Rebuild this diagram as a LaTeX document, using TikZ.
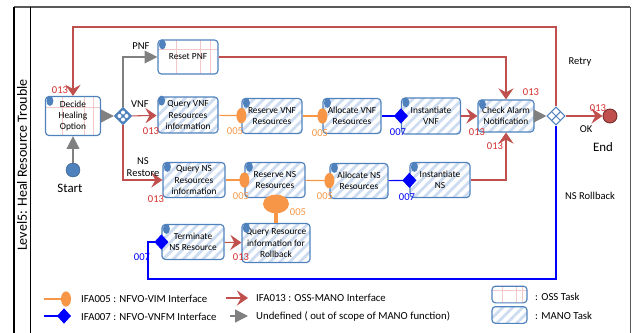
\documentclass[tikz,border=0pt]{standalone}
\usepackage{fontspec}
\setmainfont{Carlito}
\usepackage{tikz}
\usetikzlibrary{positioning,arrows.meta,shapes.geometric,patterns.meta,calc}
\usepackage{xcolor}

\definecolor{taskblue}{RGB}{79,129,189}
\definecolor{ossgrid}{RGB}{242,200,200}
\definecolor{stripeblue}{RGB}{205,220,240}
\definecolor{ifared}{RGB}{192,80,77}
\definecolor{numred}{RGB}{215,45,45}
\definecolor{ifaorange}{RGB}{247,150,70}
\definecolor{ifablue}{RGB}{0,0,255}
\definecolor{undefgray}{RGB}{128,128,128}

\tikzset{
  task/.style={draw=taskblue, line width=1pt, rounded corners=3pt, align=center,
    font=\fontsize{8}{9.5}\selectfont, minimum width=18mm, minimum height=10.5mm, inner sep=1pt},
  osstask/.style={task, fill=white, path picture={
      \foreach \f in {0.3,0.7,0.87}
        \draw[ossgrid, line width=0.8pt]
          ($(path picture bounding box.south west)!\f!(path picture bounding box.south east)$) --
          ($(path picture bounding box.north west)!\f!(path picture bounding box.north east)$);
      \draw[ossgrid, line width=0.8pt]
          ($(path picture bounding box.north west)!0.28!(path picture bounding box.south west)$) --
          ($(path picture bounding box.north east)!0.28!(path picture bounding box.south east)$);
    }},
  manotask/.style={task, pattern={Lines[angle=45,distance=6pt,line width=2.4pt]}, pattern color=stripeblue},
  gwone/.style={diamond, aspect=1, fill=taskblue, draw=taskblue, minimum size=5.4mm, inner sep=0pt,
    path picture={\foreach \a in {0,90,180,270}
      \fill[white] ([shift={(\a:1.05mm)}]path picture bounding box.center) circle (0.6mm);}},
  gwtwo/.style={diamond, aspect=1, fill=white, draw=taskblue, line width=0.9pt, minimum size=5.4mm, inner sep=0pt,
    path picture={
      \draw[taskblue, line width=0.9pt] ([shift={(-1.35mm,1.35mm)}]path picture bounding box.center) -- ([shift={(1.35mm,-1.35mm)}]path picture bounding box.center);
      \draw[taskblue, line width=0.9pt] ([shift={(1.35mm,1.35mm)}]path picture bounding box.center) -- ([shift={(-1.35mm,-1.35mm)}]path picture bounding box.center);}},
  startev/.style={circle, fill=taskblue, draw=taskblue!70!black, minimum size=4.2mm, inner sep=0pt},
  endev/.style={circle, fill=ifared, draw=ifared!60!black, line width=0.8pt, minimum size=4.2mm, inner sep=0pt},
  ifa013/.style={draw=ifared, line width=0.9pt, -{Stealth[length=9.5pt,width=13pt,inset=3.5pt]}},
  undef/.style={draw=undefgray, line width=1.1pt, -{Triangle[length=11pt,width=11pt]}},
  ifa005/.style={draw=ifaorange, line width=1pt, -{Ellipse[length=8.5pt,width=13pt]}, shorten >=-4.25pt},
  ifa007/.style={draw=ifablue, line width=1pt, -{Diamond[length=12pt,width=13pt]}, shorten >=-6pt},
  lbl/.style={font=\fontsize{9}{10.5}\selectfont, align=center},
  num013/.style={text=numred, font=\fontsize{9}{10}\selectfont, inner sep=0pt},
  num005/.style={text=ifaorange, font=\fontsize{9}{10}\selectfont, inner sep=0pt},
  num007/.style={text=ifablue, font=\fontsize{9}{10}\selectfont, inner sep=0pt},
  legend/.style={font=\fontsize{9.2}{11}\selectfont, anchor=west, inner sep=0pt}
}

\begin{document}
\begin{tikzpicture}[x=0.3mm, y=-0.3mm]
\useasboundingbox (0,0) rectangle (635,333);

% lane frame
\draw[gray!70!black, line width=1.2pt] (14,7) -- (630,7);
\draw[line width=1.6pt] (14,7) -- (14,333);
\draw[line width=0.7pt] (30,7) -- (30,333);
\draw[gray!70!black, line width=0.8pt] (630,7) -- (630,333);
\node[rotate=90, font=\fontsize{12}{14}\selectfont] (lane) at (22,165) {Level5: Heal Resource Trouble};

% tasks
\node[osstask, minimum width=16.5mm, minimum height=11.7mm] (decide) at (73,116) {Decide\\Healing\\Option};
\node[osstask, minimum height=10.2mm] (resetpnf) at (188,57) {Reset PNF};
\node[manotask, minimum height=10.8mm] (qvnf) at (188,115) {Query VNF\\Resources\\information};
\node[manotask] (rsvvnf) at (272,116) {Reserve VNF\\Resources};
\node[manotask, minimum width=17.4mm] (allocvnf) at (352,116) {Allocate VNF\\Resources};
\node[manotask, minimum width=17.7mm, minimum height=10.8mm] (instvnf) at (431,116) {Instantiate\\VNF};
\node[manotask, minimum width=16.8mm, minimum height=9.6mm] (checkalarm) at (506,116) {Check Alarm\\Notification};
\node[manotask, minimum width=18.6mm] (qns) at (194,180) {Query NS\\Resources\\information};
\node[manotask] (rsvns) at (275,180) {Reserve NS\\Resources};
\node[manotask, minimum width=17.4mm] (allocns) at (359,181) {Allocate NS\\Resources};
\node[manotask] (instns) at (440,180) {Instantiate\\NS};
\node[manotask, minimum width=18.6mm] (termns) at (193,242) {Terminate\\NS Resource};
\node[manotask, minimum width=20.4mm, minimum height=11.7mm] (qrollback) at (276,243) {Query Resource\\information for\\Rollback};

% task markers
\foreach \t in {decide,resetpnf,qvnf,rsvvnf,allocvnf,instvnf,checkalarm,qns,rsvns,allocns,instns,termns,qrollback}
  \fill[taskblue] ($(\t.north west)+(5,5)$) ellipse (3.5 and 5);

% events and gateways
\node[startev] (start) at (73,170) {};
\node[font=\fontsize{11}{13}\selectfont] (startlbl) at (70,188) {Start};
\node[gwone] (gw1) at (123,116) {};
\node[gwtwo] (gw2) at (556,116) {};
\node[endev] (end) at (610,116) {};
\node[font=\fontsize{11}{13}\selectfont] (endlbl) at (603,147) {End};

% flow
\draw[undef] (start) -- (decide);
\draw[undef] (decide) -- (gw1);
\draw[undef] (gw1.north) |- (resetpnf);
\draw[ifa013] (gw1) -- (qvnf);
\draw[ifa013] (gw1.south) |- (qns);
\draw[ifa005] (qvnf) -- (rsvvnf);
\draw[ifa005] (rsvvnf) -- (allocvnf);
\draw[ifa007] (allocvnf) -- (instvnf);
\draw[ifa013] (instvnf) -- (checkalarm);
\draw[ifa013] (resetpnf) -| (checkalarm);
\draw[ifa005] (qns) -- (rsvns);
\draw[ifa005] (rsvns) -- (allocns);
\draw[ifa007] (allocns) -- (instns);
\draw[ifa013] (instns) -| (checkalarm);
\draw[undef] (checkalarm) -- (gw2);
\draw[ifa013] (gw2) -- (end);
\coordinate (retry) at (300,27);
\draw[ifa013] (gw2.north) |- (retry) -| (decide.north);
\coordinate (rollback) at (148,279);
\draw[ifa007] (gw2.south) |- (rollback) |- (termns);
\draw[ifa013] (termns) -- (qrollback);
\draw[ifa005, line width=3.5pt, -{Ellipse[length=16pt,width=22pt]}, shorten >=-3pt]
  (qrollback.north) -- (qrollback.north |- rsvns.south);

% branch labels
\node[lbl] (pnf) at (141,46) {PNF};
\node[lbl] (vnf) at (140,104) {VNF};
\node[lbl] (nsrestore) at (143,167) {NS\\Restore};
\node[lbl] (retrylbl) at (580,62) {Retry};
\node[lbl] (ok) at (586,129) {OK};
\node[lbl] (nsrollback) at (590,196) {NS Rollback};

% interface numbers
\foreach \x/\y [count=\i] in {60/90,151/131,156/199,531/92,477/132,495/146,598/108,241/257}
  \node[num013] (r\i) at (\x,\y) {013};
\foreach \x/\y [count=\i] in {235/131,320/133,241/196,325/196,298/212}
  \node[num005] (o\i) at (\x,\y) {005};
\foreach \x/\y [count=\i] in {398/132,407/197,142/257}
  \node[num007] (b\i) at (\x,\y) {007};

% legend
\coordinate (k5a) at (44,299); \coordinate (k5b) at (66,299);
\draw[ifa005] (k5a) -- (k5b);
\node[legend] (k5t) at (81,299) {IFA005 : NFVO-VIM Interface};
\coordinate (k7a) at (44,316); \coordinate (k7b) at (64,316);
\draw[ifa007] (k7a) -- (k7b);
\node[legend] (k7t) at (81,317) {IFA007 : NFVO-VNFM Interface};
\coordinate (k13a) at (226,298); \coordinate (k13b) at (248,298);
\draw[ifa013] (k13a) -- (k13b);
\node[legend] (k13t) at (256,298) {IFA013 : OSS-MANO Interface};
\coordinate (kua) at (230,316); \coordinate (kub) at (248,316);
\draw[undef] (kua) -- (kub);
\node[legend] (kut) at (256,316) {Undefined ( out of scope of MANO function)};
\node[osstask, minimum width=10.5mm, minimum height=5mm] (koss) at (509.5,294.5) {};
\node[legend] (kosst) at (535,297) {: OSS Task};
\node[manotask, minimum width=10.5mm, minimum height=5mm] (kmano) at (509.5,315) {};
\node[legend] (kmanot) at (535,316) {: MANO Task};
\end{tikzpicture}
\end{document}
